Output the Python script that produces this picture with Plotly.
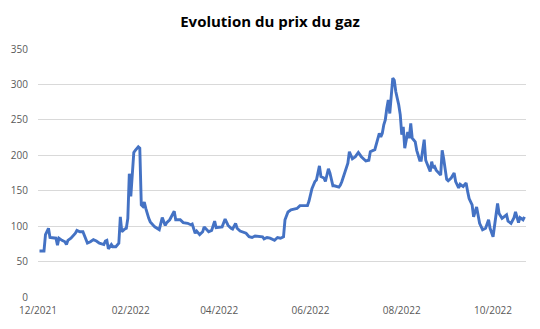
import plotly.graph_objects as go

dates = [
    "2021-12-02", "2021-12-05", "2021-12-06", "2021-12-08", "2021-12-09", "2021-12-11",
    "2021-12-13", "2021-12-14", "2021-12-15", "2021-12-17", "2021-12-19", "2021-12-20",
    "2021-12-21", "2021-12-23", "2021-12-26", "2021-12-27", "2021-12-29", "2021-12-31",
    "2022-01-01", "2022-01-03", "2022-01-05", "2022-01-07", "2022-01-09", "2022-01-11",
    "2022-01-14", "2022-01-15", "2022-01-16", "2022-01-17", "2022-01-19", "2022-01-20",
    "2022-01-22", "2022-01-24", "2022-01-25", "2022-01-26", "2022-01-28", "2022-01-29",
    "2022-01-30", "2022-01-31", "2022-02-01", "2022-02-02", "2022-02-03", "2022-02-04",
    "2022-02-06", "2022-02-07", "2022-02-08", "2022-02-09", "2022-02-10", "2022-02-11",
    "2022-02-12", "2022-02-13", "2022-02-14", "2022-02-15", "2022-02-17", "2022-02-20",
    "2022-02-22", "2022-02-24", "2022-02-25", "2022-02-27", "2022-03-02", "2022-03-03",
    "2022-03-06", "2022-03-08", "2022-03-11", "2022-03-13", "2022-03-14", "2022-03-16",
    "2022-03-17", "2022-03-19", "2022-03-21", "2022-03-22", "2022-03-24", "2022-03-25",
    "2022-03-27", "2022-03-29", "2022-03-30", "2022-04-01", "2022-04-03", "2022-04-05",
    "2022-04-07", "2022-04-09", "2022-04-10", "2022-04-12", "2022-04-13", "2022-04-15",
    "2022-04-17", "2022-04-19", "2022-04-21", "2022-04-23", "2022-04-25", "2022-04-28",
    "2022-04-30", "2022-05-01", "2022-05-03", "2022-05-05", "2022-05-08", "2022-05-10",
    "2022-05-12", "2022-05-14", "2022-05-15", "2022-05-17", "2022-05-19", "2022-05-21",
    "2022-05-23", "2022-05-25", "2022-05-30", "2022-05-31", "2022-06-01", "2022-06-02",
    "2022-06-04", "2022-06-05", "2022-06-07", "2022-06-08", "2022-06-10", "2022-06-11",
    "2022-06-13", "2022-06-14", "2022-06-16", "2022-06-17", "2022-06-20", "2022-06-21",
    "2022-06-22", "2022-06-24", "2022-06-26", "2022-06-27", "2022-06-29", "2022-07-01",
    "2022-07-03", "2022-07-05", "2022-07-07", "2022-07-08", "2022-07-10", "2022-07-11",
    "2022-07-14", "2022-07-15", "2022-07-17", "2022-07-18", "2022-07-19", "2022-07-20",
    "2022-07-21", "2022-07-22", "2022-07-23", "2022-07-24", "2022-07-25", "2022-07-26",
    "2022-07-27", "2022-07-28", "2022-07-30", "2022-07-31", "2022-08-01", "2022-08-02",
    "2022-08-03", "2022-08-05", "2022-08-06", "2022-08-07", "2022-08-08", "2022-08-10",
    "2022-08-11", "2022-08-13", "2022-08-14", "2022-08-15", "2022-08-16", "2022-08-17",
    "2022-08-19", "2022-08-20", "2022-08-21", "2022-08-22", "2022-08-23", "2022-08-24",
    "2022-08-27", "2022-08-28", "2022-08-29", "2022-08-30", "2022-08-31", "2022-09-01",
    "2022-09-03", "2022-09-05", "2022-09-06", "2022-09-08", "2022-09-09", "2022-09-11",
    "2022-09-13", "2022-09-14", "2022-09-15", "2022-09-17", "2022-09-18", "2022-09-20",
    "2022-09-21", "2022-09-22", "2022-09-24", "2022-09-26", "2022-09-28", "2022-09-29",
    "2022-10-01", "2022-10-04", "2022-10-05", "2022-10-07", "2022-10-10", "2022-10-11",
    "2022-10-13", "2022-10-15", "2022-10-16", "2022-10-18", "2022-10-19", "2022-10-21",
    "2022-10-22",
]

prices = [
    65, 65, 88, 97, 84, 84,
    83, 73, 83, 80, 78, 74,
    80, 83, 90, 94, 92, 92,
    87, 76, 78, 81, 79, 76,
    74, 79, 80, 68, 74, 71,
    71, 76, 113, 92, 96, 97,
    111, 174, 142, 172, 204, 207,
    212, 210, 130, 128, 134, 125,
    116, 111, 106, 104, 99, 95,
    112, 101, 105, 109, 121, 109,
    109, 105, 104, 102, 103, 90,
    93, 88, 92, 99, 95, 92,
    94, 107, 98, 98, 99, 110,
    101, 97, 96, 104, 97, 93,
    91, 90, 85, 84, 86, 85,
    85, 82, 84, 83, 80, 84,
    83, 85, 109, 120, 123, 124,
    125, 129, 129, 135, 146, 153,
    163, 165, 185, 170, 168, 163,
    181, 175, 157, 157, 155, 158,
    163, 175, 189, 205, 195, 198,
    204, 198, 193, 192, 193, 205,
    208, 215, 231, 226, 231, 243,
    250, 266, 278, 259, 285, 309,
    306, 290, 271, 257, 229, 240,
    210, 233, 224, 245, 224, 219,
    207, 193, 193, 205, 222, 193,
    182, 177, 191, 182, 184, 179,
    172, 207, 195, 182, 166, 164,
    168, 175, 163, 154, 159, 156,
    161, 149, 139, 130, 113, 127,
    116, 104, 95, 97, 109, 97,
    85, 132, 118, 111, 116, 107,
    104, 112, 120, 105, 112, 109,
    113,
]

y_ticks = [0, 50, 100, 150, 200, 250, 300, 350]
x_range = ["2021-12-01", "2022-10-23"]

fig = go.Figure()
fig.add_trace(go.Scatter(
    x=dates, y=prices, mode="lines",
    line=dict(color="#4472C4", width=2.9),
    hoverinfo="x+y", showlegend=False,
))

tick_font = dict(family="Open Sans, sans-serif", size=10, color="#595959")

fig.update_layout(
    width=540, height=329,
    margin=dict(l=38, r=14, t=49, b=32),
    paper_bgcolor="white", plot_bgcolor="white",
    title=dict(
        text="<b>Evolution du prix du gaz</b>",
        x=0.5, xanchor="center", xref="container",
        y=1 - 22 / 329, yanchor="middle", yref="container",
        font=dict(family="Open Sans, sans-serif", size=15, color="#000000"),
    ),
    xaxis=dict(
        type="date", range=x_range,
        tick0="2021-12-01", dtick="M2", tickformat="%m/%Y",
        showgrid=False, zeroline=False, showline=False,
        ticks="", tickfont=tick_font, ticklabelstandoff=6,
    ),
    yaxis=dict(
        range=[0, 350], tickvals=y_ticks,
        showgrid=True, gridcolor="#D9D9D9", gridwidth=1,
        zeroline=False, showline=False, ticks="",
        tickfont=tick_font, ticklabelstandoff=9,
    ),
)

fig.write_html("out.html")
